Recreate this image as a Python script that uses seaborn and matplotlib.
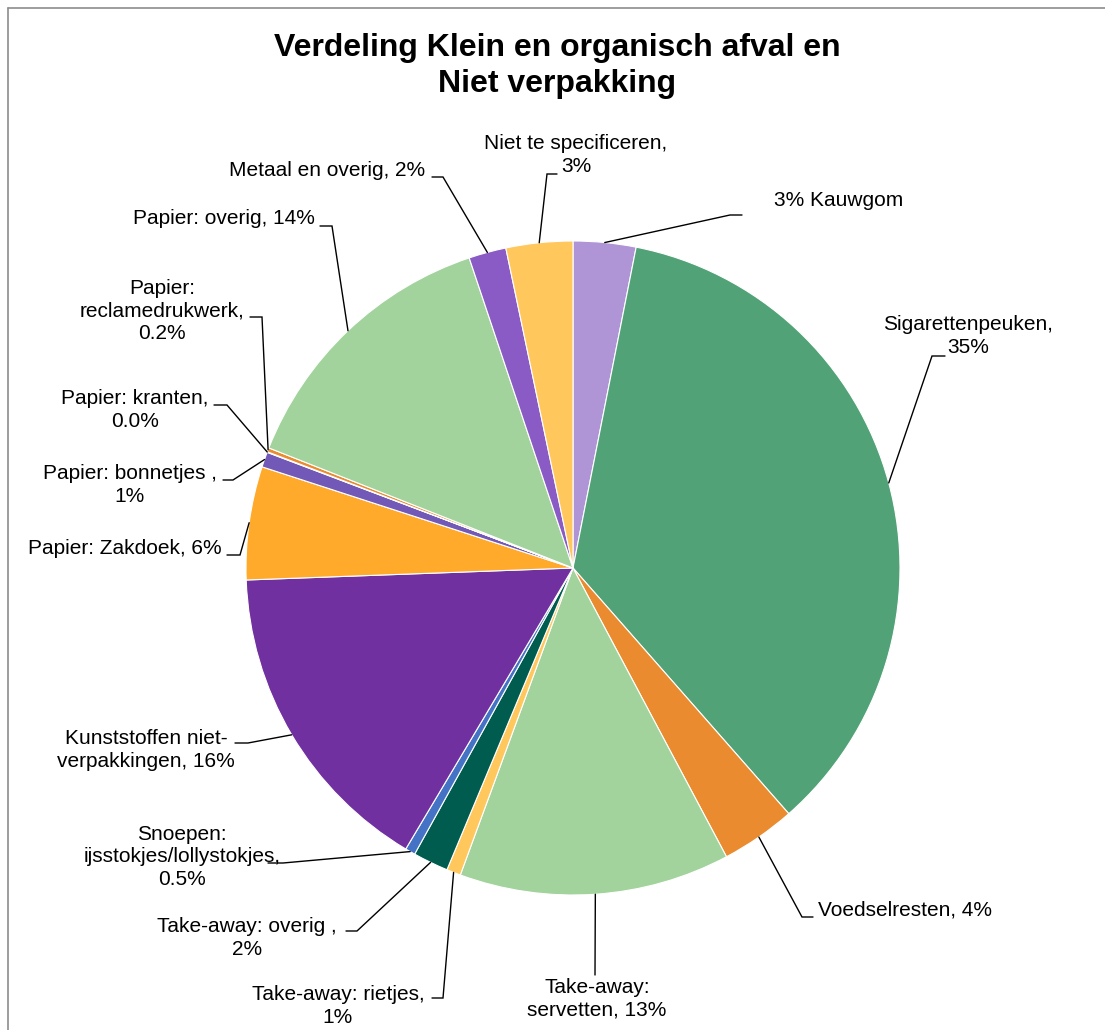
import numpy as np
import matplotlib
matplotlib.use("Agg")
import matplotlib.pyplot as plt
import seaborn as sns

# ---------------- data ----------------
categories = [
    "Kauwgom", "Sigarettenpeuken", "Voedselresten", "Take-away: servetten",
    "Take-away: rietjes", "Take-away: overig", "Snoepen: ijsstokjes/lollystokjes",
    "Kunststoffen niet-verpakkingen", "Papier: Zakdoek", "Papier: bonnetjes",
    "Papier: kranten", "Papier: reclamedrukwerk", "Papier: overig",
    "Metaal en overig", "Niet te specificeren",
]
values = [3.1, 35.5, 3.7, 13.4, 0.7, 1.75, 0.5, 15.9, 5.6, 0.75, 0.03, 0.2, 13.9, 1.85, 3.3]
label_texts = [
    "3% Kauwgom",
    "Sigarettenpeuken,\n35%",
    "Voedselresten, 4%",
    "Take-away:\nservetten, 13%",
    "Take-away: rietjes,\n1%",
    "Take-away: overig ,\n2%",
    "Snoepen:\nijsstokjes/lollystokjes,\n0.5%",
    "Kunststoffen niet-\nverpakkingen, 16%",
    "Papier: Zakdoek, 6%",
    "Papier: bonnetjes ,\n1%",
    "Papier: kranten,\n0.0%",
    "Papier:\nreclamedrukwerk,\n0.2%",
    "Papier: overig, 14%",
    "Metaal en overig, 2%",
    "Niet te specificeren,\n3%",
]
colors = ["#B095D6", "#52A278", "#E98B2E", "#A2D39C", "#FFC75C", "#005C4F",
          "#4472C4", "#7030A0", "#FFAA2B", "#7359B7", "#E98B2E", "#E98B2E",
          "#A2D39C", "#8A5BC4", "#FFC75C"]
title = "Verdeling Klein en organisch afval en\nNiet verpakking"

# ---------------- layout (pixel coordinates, y from top) ----------------
W, H = 1105, 1030
CX, CY, R = 573, 568, 327
# text anchor x, y, ha ; leader elbow (ex, ey) and end x
text_pos = [
    (774, 200, "left"), (968, 336, "center"), (818, 910, "left"), (597, 999, "center"),
    (338, 1006, "center"), (247, 938, "center"), (182, 857, "center"), (146, 750, "center"),
    (222, 548, "right"), (130, 485, "center"), (135, 410, "center"), (162, 311, "center"),
    (315, 219, "right"), (425, 170, "right"), (576, 155, "center"),
]
elbows = [
    (730, 215, 742), (932, 356, 945), (802, 917, 813), (595, 975, 595),
    (443, 998, 432), (357, 931, 346), (283, 863, 268), (248, 743, 235),
    (240, 555, 227), (233, 480, 223), (227, 405, 214), (262, 317, 250),
    (332, 226, 320), (443, 177, 432), (547, 174, 557),
]

sns.set_theme(style="white")
plt.rcParams["font.family"] = ["Liberation Sans", "DejaVu Sans"]

fig = plt.figure(figsize=(W / 100, H / 100), dpi=100)
ax = fig.add_axes([0, 0, 1, 1])

wedges, _ = ax.pie(values, colors=colors, startangle=90, counterclock=False,
                   center=(CX, H - CY), radius=R,
                   wedgeprops=dict(edgecolor="white", linewidth=0.8))
ax.set_xlim(0, W)
ax.set_ylim(0, H)
ax.set_aspect("auto")
ax.axis("off")

for w, txt, (tx, ty, ha), (ex, ey, hx) in zip(wedges, label_texts, text_pos, elbows):
    mid = np.deg2rad((w.theta1 + w.theta2) / 2)
    sx = CX + R * np.cos(mid)
    sy = (H - CY) + R * np.sin(mid)
    ax.plot([sx, ex, hx], [sy, H - ey, H - ey], color="black", lw=1.0,
            solid_joinstyle="miter")
    ax.text(tx, H - ty, txt, ha=ha, va="center", fontsize=15, color="black",
            multialignment="center", linespacing=1.25)

ax.text(557, H - 66, title, ha="center", va="center", fontsize=23,
        fontweight="bold", color="black", linespacing=1.3)

# chart border (left and top edges visible)
ax.plot([8, 8], [0, H - 8], color="#8c8c8c", lw=1.2)
ax.plot([8, W], [H - 8, H - 8], color="#8c8c8c", lw=1.2)

fig.savefig("out.png", dpi=100, facecolor="white")
